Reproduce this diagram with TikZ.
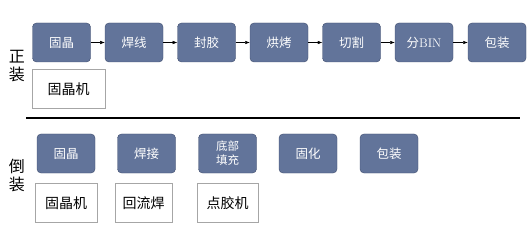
\documentclass[tikz,border=0pt]{standalone}
\usepackage{fontspec}
\newfontfamily\cjk{Noto Sans CJK SC}
\usetikzlibrary{arrows.meta}
\definecolor{procfill}{RGB}{98,116,154}
\definecolor{procedge}{RGB}{62,76,108}

\begin{document}
\begin{tikzpicture}[x=1pt, y=-1pt, every node/.style={font=\cjk}, >={Latex[length=1.6mm]},
	proc/.style={draw=procedge, fill=procfill, rounded corners=4pt, minimum width=58pt, minimum height=39pt, inner sep=1pt, align=center, text=white, font=\cjk\fontsize{12.5}{14}\selectfont},
	tool/.style={draw=gray!70, fill=white, minimum height=39pt, inner sep=1pt, font=\cjk\fontsize{14}{16}\selectfont},
	side/.style={align=center, font=\cjk\fontsize{16}{18}\selectfont}]
	\useasboundingbox (0,0) rectangle (530,235);
	% top flow
	\node[proc] (a1) at (61.5,42.5) {固晶};
	\node[proc] (a2) at (134,42.5) {焊线};
	\node[proc] (a3) at (206.5,42.5) {封胶};
	\node[proc] (a4) at (279,42.5) {烘烤};
	\node[proc] (a5) at (351.5,42.5) {切割};
	\node[proc] (a6) at (424,42.5) {分{\rmfamily BIN}};
	\node[proc] (a7) at (497,42.5) {包装};
	\draw[->] (a1) -- (a2);
	\draw[->] (a2) -- (a3);
	\draw[->] (a3) -- (a4);
	\draw[->] (a4) -- (a5);
	\draw[->] (a5) -- (a6);
	\draw[->] (a6) -- (a7);
	\node[tool, minimum width=73pt] (ta1) at (68.5,89) {固晶机};
	\node[side] (zz) at (17,66) {正\\装};
	% divider
	\coordinate (sl) at (26,118);
	\coordinate (sr) at (520,118);
	\draw[line width=1.6pt] (sl) -- (sr);
	% bottom flow
	\node[proc] (b1) at (66,153.5) {固晶};
	\node[proc] (b2) at (146.5,153.5) {焊接};
	\node[proc, font=\cjk\fontsize{11.5}{14}\selectfont] (b3) at (227.5,153.5) {底部\\填充};
	\node[proc] (b4) at (308,153.5) {固化};
	\node[proc] (b5) at (389,153.5) {包装};
	\node[tool, minimum width=62pt] (tb1) at (66,203) {固晶机};
	\node[tool, minimum width=57pt] (tb2) at (143.5,203) {回流焊};
	\node[tool, minimum width=61pt] (tb3) at (227.5,203) {点胶机};
	\node[side] (dz) at (17,175) {倒\\装};
\end{tikzpicture}
\end{document}
